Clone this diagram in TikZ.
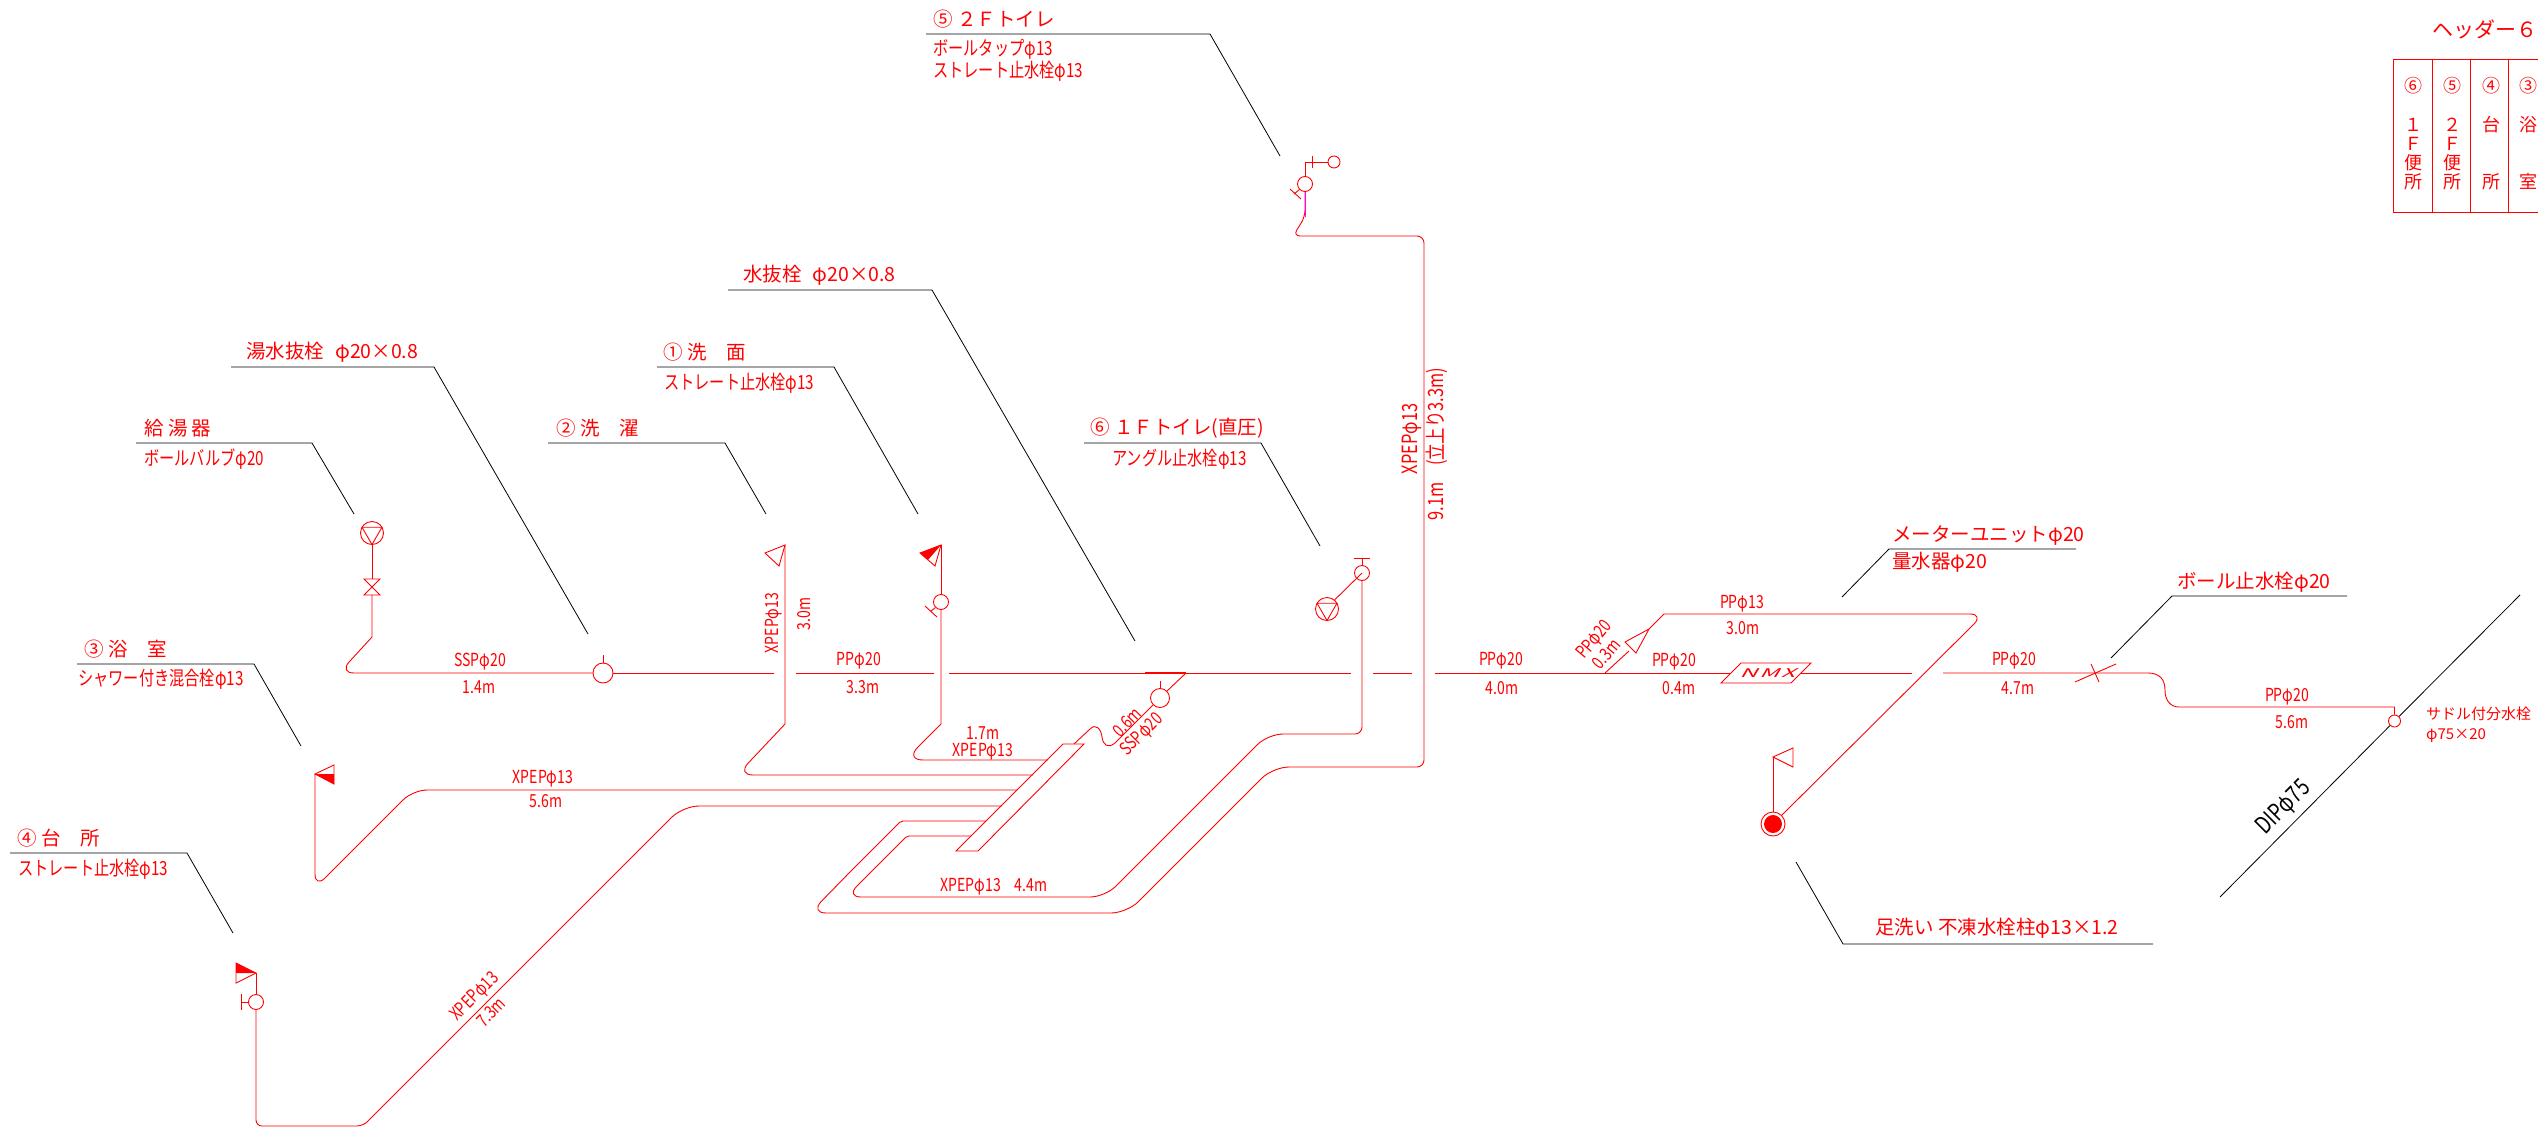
\documentclass[tikz,border=0pt]{standalone}
\usepackage{fontspec}
\usetikzlibrary{shapes.geometric}
\setmainfont{Noto Sans CJK JP}
\newfontfamily\cadfont[FakeStretch=0.78]{Noto Sans CJK JP}
\newfontfamily\nmxfont[FakeSlant=0.6,FakeStretch=2,LetterSpace=20]{Noto Sans CJK JP}
\definecolor{pipered}{RGB}{255,0,0}
\definecolor{riser}{RGB}{255,0,255}
\tikzset{
    % Pipe runs
    pipe/.style={
        draw=pipered,
        line width=0.9pt,
    },
    % Black leader lines
    leader/.style={
        draw=black,
        line width=0.8pt,
    },
    % Valve on a pipe
    valve/.style={
        pipe,
        circle,
        inner sep=0pt,
        minimum size=15pt,
    },
    % Water heater / toilet tank
    pumpcircle/.style={
        valve,
        minimum size=23pt,
    },
    pumptri/.style={
        pipe,
        regular polygon,
        regular polygon sides=3,
        shape border rotate=180,
        inner sep=0pt,
        minimum size=23pt,
    },
    % Text above and below the leader
    labeltop/.style={
        text=pipered,
        anchor=west,
        inner sep=0pt,
        font=\fontsize{19.5}{19.5}\selectfont,
    },
    labelsub/.style={
        labeltop,
        font=\cadfont\fontsize{19.5}{22}\selectfont,
    },
    % Pipe size and length
    pipetext/.style={
        text=pipered,
        inner sep=0pt,
        font=\cadfont\fontsize{18}{18}\selectfont,
    },
    % Header table
    cell/.style={
        text=pipered,
        anchor=north,
        align=center,
        inner sep=0pt,
        font=\fontsize{18}{19}\selectfont,
    },
}
\begin{document}
\begin{tikzpicture}[x=1pt,y=-1pt]
    \clip (0,0) rectangle (2538,1132);

    % Leaders
    \coordinate (drainA) at (231,367); \coordinate (drainB) at (434,367); \coordinate (drainC) at (588,634);
    \draw[leader] (drainA) -- (drainB) -- (drainC);
    \coordinate (heatA) at (136,443); \coordinate (heatB) at (312,443); \coordinate (heatC) at (354,514);
    \draw[leader] (heatA) -- (heatB) -- (heatC);
    \coordinate (bathA) at (77,664); \coordinate (bathB) at (254,664); \coordinate (bathC) at (301,746);
    \draw[leader] (bathA) -- (bathB) -- (bathC);
    \coordinate (kitA) at (10,853); \coordinate (kitB) at (187,853); \coordinate (kitC) at (233,933);
    \draw[leader] (kitA) -- (kitB) -- (kitC);
    \coordinate (laundA) at (548,443); \coordinate (laundB) at (725,443); \coordinate (laundC) at (766,514);
    \draw[leader] (laundA) -- (laundB) -- (laundC);
    \coordinate (washA) at (657,367); \coordinate (washB) at (834,367); \coordinate (washC) at (918,514);
    \draw[leader] (washA) -- (washB) -- (washC);
    \coordinate (plugA) at (728,290); \coordinate (plugB) at (932,290); \coordinate (plugC) at (1135,641);
    \draw[leader] (plugA) -- (plugB) -- (plugC);
    \coordinate (firstA) at (1084,443); \coordinate (firstB) at (1261,443); \coordinate (firstC) at (1320,546);
    \draw[leader] (firstA) -- (firstB) -- (firstC);
    \coordinate (secondA) at (926,34); \coordinate (secondB) at (1210,34); \coordinate (secondC) at (1280,156);
    \draw[leader] (secondA) -- (secondB) -- (secondC);
    \coordinate (meterA) at (2076,549); \coordinate (meterB) at (1889,549); \coordinate (meterC) at (1842,597);
    \draw[leader] (meterA) -- (meterB) -- (meterC);
    \coordinate (ballA) at (2347,596); \coordinate (ballB) at (2172,596); \coordinate (ballC) at (2111,658);
    \draw[leader] (ballA) -- (ballB) -- (ballC);
    \coordinate (footA) at (2153,944); \coordinate (footB) at (1843,944); \coordinate (footC) at (1796,862);
    \draw[leader] (footA) -- (footB) -- (footC);

    % Leader texts
    \node[labeltop] (drainT) at (246,352) {湯水抜栓\hspace{11pt}φ20×0.8};
    \node[labeltop] (heatT) at (144,428) {給 湯 器};
    \node[labelsub] (heatS) at (144,459) {ボールバルブφ20};
    \node[labeltop] (bathT) at (84,649) {③ 浴　室};
    \node[labelsub] (bathS) at (78,679) {シャワー付き混合栓φ13};
    \node[labeltop] (kitT) at (17,838) {④ 台　所};
    \node[labelsub] (kitS) at (18,869) {ストレート止水栓φ13};
    \node[labeltop] (laundT) at (556,428) {② 洗　濯};
    \node[labeltop] (washT) at (663,352) {① 洗　面};
    \node[labelsub] (washS) at (664,383) {ストレート止水栓φ13};
    \node[labeltop] (plugT) at (743,275) {水抜栓\hspace{11pt}φ20×0.8};
    \node[labeltop] (firstT) at (1090,428) {⑥ １Ｆトイレ(直圧)};
    \node[labelsub] (firstS) at (1112,459) {アングル止水栓φ13};
    \node[labeltop] (secondT) at (933,19) {⑤ ２Ｆトイレ};
    \node[labelsub,align=left] (secondS) at (933,60) {ボールタップφ13\\ストレート止水栓φ13};
    \node[labeltop] (meterT) at (1892,536) {メーターユニットφ20};
    \node[labeltop] (meterS) at (1892,562) {量水器φ20};
    \node[labeltop] (ballT) at (2177,582) {ボール止水栓φ20};
    \node[labeltop] (footT) at (1875,928) {足洗い 不凍水栓柱φ13×1.2};
    \node[labelsub,font=\fontsize{15}{20}\selectfont,align=left] (saddleT) at (2426,725) {サドル付分水栓\\φ75×20};

    % Fixtures
    \node[pumpcircle] (heater) at (372,533) {};
    \node[pumptri] (heaterTri) at (372,533) {};
    \coordinate (ballv) at (372,587);
    \node[valve,minimum size=20pt] (drainv) at (603,673) {};
    \node[valve] (washv) at (941,602) {};
    \node[valve,minimum size=19pt] (sspv) at (1160,698) {};
    \node[valve] (firstv) at (1362,573) {};
    \node[pumpcircle] (tank) at (1327,609) {};
    \node[pumptri] (tankTri) at (1327,609) {};
    \node[valve] (secondv) at (1305,184) {};
    \node[valve,minimum size=12pt] (tapv) at (1334,162) {};
    \node[valve] (kitv) at (256,1002) {};
    \node[valve,minimum size=12pt] (saddle) at (2394.5,721) {};
    \node[valve,minimum size=24pt] (foot) at (1773,824) {};
    \node[valve,fill=pipered,minimum size=17pt] (footCore) at (1773,824) {};

    % Ball valve
    \draw[pipe] (ballv) ++(-8,-8) -- ++(16,0) -- ++(-16,16) -- ++(16,0) -- cycle;
    % Stems on the valves
    \draw[pipe] (drainv.north) -- ++(0,-8);
    \draw[pipe] (sspv.north) -- ++(0,-7);
    \draw[pipe] (firstv.north) -- ++(0,-7) ++(-8,0) -- ++(16,0);
    \draw[pipe] (kitv.west) -- ++(-7,0) ++(0,-8) -- ++(0,16);
    \draw[pipe] (washv.225) -- (931,611) (925,606) -- (937,617);
    \draw[pipe] (secondv.225) -- (1294,194) (1290,189) -- (1301,199);
    \draw[pipe] (secondv.north) -- (1305,162) -- (tapv.west) (1312,156) -- (1312,168);

    % Main line
    \coordinate (sspTee) at (1186,673);
    \draw[pipe] (ballv) ++(0,8) -- (372,637) [rounded corners=15pt] -- (339,673) -- (drainv.west);
    \draw[pipe] (drainv.east) -- (774,673);
    \draw[pipe] (796,673) -- (934,673);
    \draw[pipe] (949,673) -- (1351,673);
    \draw[pipe] (1373,673) -- (1412,673);
    \draw[pipe] (1435,673) -- (1731,673);
    \draw[pipe] (1801,673) -- (1912,673);
    \draw[pipe] (1943,673) -- (2148,673) .. controls (2160,673) and (2165,680) .. (2165,690) .. controls (2165,700) and (2170,707) .. (2179,707) -- (2394.5,707) -- (saddle.north);
    \draw[pipe] (heater.south) -- ([yshift=8pt]ballv);
    \draw[pipe,line width=1.6pt] (1145,673) -- (sspTee);

    % SSP branch and sleeve
    \draw[pipe] (sspTee) -- (sspv.45);
    \draw[pipe] (sspv.225) -- (1115,743) .. controls (1108,749) and (1103,745) .. (1102,737) .. controls (1101,729) and (1096,723) .. (1090,729) -- (1074,744);
    \draw[pipe] (1063,744) -- (1084,744) -- (978,851) -- (956,851) -- cycle;

    % Branch pipes to the fixtures
    \coordinate (laundTop) at (785,545);
    \draw[pipe] (laundTop) -- (765,553) -- (779,566) -- cycle;
    \draw[pipe] (laundTop) -- (785,724) [rounded corners=16pt] -- (737,775) -- (1033,775);
    \coordinate (washTop) at (941,545);
    \draw[pipe] (washTop) -- (920,553) -- (935,566) -- cycle;
    \fill[pipered] (washTop) -- (920,553) -- (928,560) -- cycle;
    \draw[pipe] (washTop) -- (washv.north);
    \draw[pipe] (washv.south) -- (941,724) [rounded corners=18pt] -- (905,760) -- (1048,760);
    \coordinate (bathTop) at (315,774);
    \draw[pipe] (bathTop) -- (334,765) -- (334,784) -- cycle;
    \fill[pipered] (bathTop) -- (334,774) -- (334,784) -- cycle;
    \draw[pipe,rounded corners=14pt] (bathTop) -- (315,888) -- (413,790) -- (1017,790);
    \coordinate (kitTop) at (256,973);
    \draw[pipe] (kitTop) -- (236,963) -- (236,983) -- cycle;
    \fill[pipered] (kitTop) -- (236,963) -- (236,973) -- cycle;
    \draw[pipe] (kitTop) -- (kitv.north);
    \draw[pipe,rounded corners=6pt] (kitv.south) -- (256,1126) -- (363,1126) -- (640,849);
    \draw[pipe,rounded corners=16pt] (640,849) -- (683,806) -- (1002,806);
    % Long runs
    \draw[pipe,rounded corners=2pt] (986,821) -- (901,821) -- (850,872);
    \draw[pipe,rounded corners=16pt] (850,872) -- (810,913) -- (1127,913) -- (1273,767) -- (1330,767);
    \draw[pipe,rounded corners=7pt] (1330,767) -- (1424,767) -- (1424,236) -- (1293,236) -- (1305,217) -- (secondv.south);
    \draw[riser] (secondv.south) -- (1305,217);
    \draw[pipe,rounded corners=2pt] (971,836) -- (907,836) -- (876,867);
    \draw[pipe,rounded corners=15pt] (876,867) -- (846,897) -- (1105,897) -- (1268,734) -- (1320,734);
    \draw[pipe,rounded corners=7pt] (1320,734) -- (1362,734) -- (firstv.south);
    \draw[pipe] (tank.50) -- (firstv.center);

    % Meter branch
    \coordinate (meterTee) at (1605,673);
    \coordinate (flagTop) at (1649,629);
    \draw[pipe] (meterTee) -- (1629,651);
    \draw[pipe] (flagTop) -- (1625,642) -- (1636,653) -- cycle;
    \draw[pipe] (flagTop) -- (1664,614);
    \draw[pipe,rounded corners=14pt] (1664,614) -- (1984,614) -- (foot.45);
    \coordinate (footTop) at (1773,757);
    \draw[pipe] (foot.north) -- (footTop);
    \draw[pipe] (footTop) -- (1793,748) -- (1793,767) -- cycle;
    % Meter unit
    \draw[pipe] (1741,663) -- (1811,663) -- (1791,683) -- (1721,683) -- cycle;
    \node[pipetext,font=\nmxfont\fontsize{12}{12}\selectfont] (nmx) at (1767,673) {NMX};
    % Ball stop
    \draw[pipe] (2075,682) -- (2116,664) (2091,664) -- (2099,682);
    % Water main
    \draw[leader] (2220,897) -- (saddle.225) (saddle.45) -- (2520,595);

    % Pipe texts
    \node[pipetext] (run1) at (480,662) {SSPφ20};
    \node[pipetext] (len1) at (479,687) {1.4m};
    \node[pipetext] (run2) at (859,661) {PPφ20};
    \node[pipetext] (len2) at (863,687) {3.3m};
    \node[pipetext,rotate=90] (run3) at (774,623) {XPEPφ13};
    \node[pipetext,rotate=90] (len3) at (804,614) {3.0m};
    \node[pipetext] (len4) at (983,733) {1.7m};
    \node[pipetext] (run4) at (983,752) {XPEPφ13};
    \node[pipetext,rotate=45] (len5) at (1127,722) {0.6m};
    \node[pipetext,rotate=45] (run5) at (1142,735) {SSPφ20};
    \node[pipetext] (run6) at (543,779) {XPEPφ13};
    \node[pipetext] (len6) at (546,801) {5.6m};
    \node[pipetext] (run7) at (994,887) {XPEPφ13　4.4m};
    \node[pipetext,rotate=45] (run8) at (475,997) {XPEPφ13};
    \node[pipetext,rotate=45] (len8) at (491,1012) {7.3m};
    \node[pipetext,rotate=90,font=\cadfont\fontsize{21}{21}\selectfont] (run9) at (1412,439) {XPEPφ13};
    \node[pipetext,rotate=90,font=\cadfont\fontsize{21}{21}\selectfont] (len9) at (1437,444) {9.1m　(立上り3.3m)};
    \node[pipetext] (run10) at (1501,661) {PPφ20};
    \node[pipetext] (len10) at (1502,688) {4.0m};
    \node[pipetext,rotate=50] (run11) at (1595,640) {PPφ20};
    \node[pipetext,rotate=50] (len11) at (1606,654) {0.3m};
    \node[pipetext] (run12) at (1674,662) {PPφ20};
    \node[pipetext] (len12) at (1679,688) {0.4m};
    \node[pipetext] (run13) at (1742,604) {PPφ13};
    \node[pipetext] (len13) at (1743,628) {3.0m};
    \node[pipetext] (run14) at (2014,661) {PPφ20};
    \node[pipetext] (len14) at (2018,688) {4.7m};
    \node[pipetext] (run15) at (2287,697) {PPφ20};
    \node[pipetext] (len15) at (2292,722) {5.6m};
    \node[pipetext,rotate=45,text=black,font=\cadfont\fontsize{24}{24}\selectfont] (dip) at (2284,808) {DIPφ75};

    % Header table
    \node[labeltop,font=\fontsize{21}{21}\selectfont] (header) at (2432,29) {ヘッダー６};
    \draw[pipe] (2393,59) rectangle (2560,212);
    \draw[pipe] (2432,59) -- (2432,212);
    \draw[pipe] (2470,59) -- (2470,212);
    \draw[pipe] (2508,59) -- (2508,212);
    \node[cell] (col6) at (2413,77) {⑥\\[20pt]１\\Ｆ\\便\\所};
    \node[cell] (col5) at (2452,77) {⑤\\[20pt]２\\Ｆ\\便\\所};
    \node[cell] (col4) at (2491,77) {④\\[20pt]台\\[38pt]所};
    \node[cell] (col3) at (2528,77) {③\\[20pt]浴\\[38pt]室};
\end{tikzpicture}
\end{document}
